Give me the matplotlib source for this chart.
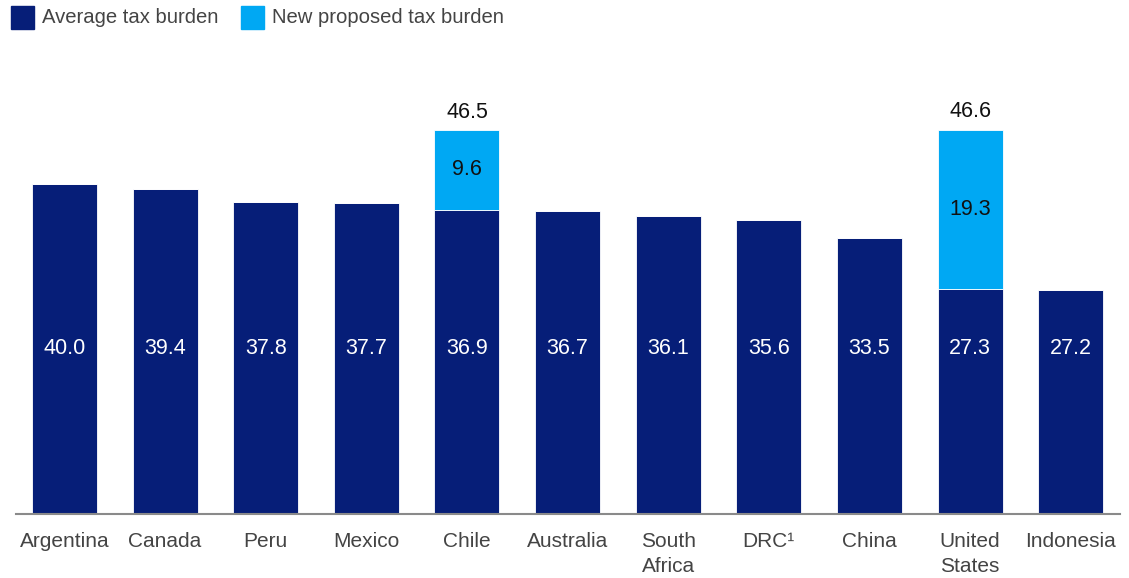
import matplotlib.pyplot as plt

plt.rcParams["font.family"] = ["Liberation Sans", "DejaVu Sans"]

countries = ["Argentina", "Canada", "Peru", "Mexico", "Chile", "Australia",
             "South\nAfrica", "DRC¹", "China", "United\nStates", "Indonesia"]
average_burden = [40.0, 39.4, 37.8, 37.7, 36.9, 36.7, 36.1, 35.6, 33.5, 27.3, 27.2]
proposed_extra = [0, 0, 0, 0, 9.6, 0, 0, 0, 0, 19.3, 0]
proposed_total = [None, None, None, None, 46.5, None, None, None, None, 46.6, None]

DARK = "#061E78"
LIGHT = "#00A8F3"
TEXT = "#444444"

fig = plt.figure(figsize=(11.29, 5.78), dpi=100)
ax = fig.add_axes([16 / 1129, 64 / 578, 1104 / 1129, 412.5 / 578])

x = list(range(len(countries)))
width = 0.646
ax.bar(x, average_burden, width=width, color=DARK, edgecolor="white", linewidth=0.6)
ax.bar(x, proposed_extra, width=width, bottom=average_burden, color=LIGHT,
       edgecolor="white", linewidth=0.6)

for i, v in enumerate(average_burden):
    ax.text(i, 20.0, f"{v:.1f}", ha="center", va="center", color="white", fontsize=15.5)
for i, v in enumerate(proposed_extra):
    if v:
        ax.text(i, average_burden[i] + v / 2, f"{v:.1f}", ha="center", va="center",
                color="#111111", fontsize=15.5)
for i, t in enumerate(proposed_total):
    if t is not None:
        ax.text(i, t + 0.9, f"{t:.1f}", ha="center", va="bottom", color="#111111",
                fontsize=15.5)

ax.set_xlim(-0.482, 10.49)
ax.set_ylim(0, 50)
ax.set_xticks(x)
ax.set_xticklabels(countries, fontsize=15, color=TEXT, va="top", linespacing=1.4)
ax.tick_params(axis="x", length=0, pad=13)
ax.set_yticks([])
for side in ["top", "right", "left"]:
    ax.spines[side].set_visible(False)
ax.spines["bottom"].set_color("#8a8a8a")
ax.spines["bottom"].set_linewidth(1.5)

# legend drawn by hand in figure pixels
def legend_item(px, color, label):
    fig.patches.append(plt.Rectangle((px / 1129, 1 - 29 / 578), 23 / 1129, 23 / 578,
                                     transform=fig.transFigure, color=color))
    fig.text((px + 31) / 1129, 1 - 17.5 / 578, label, fontsize=14.6, color=TEXT,
             va="center", ha="left")

legend_item(11, DARK, "Average tax burden")
legend_item(241, LIGHT, "New proposed tax burden")

fig.savefig("out.png", dpi=100)
